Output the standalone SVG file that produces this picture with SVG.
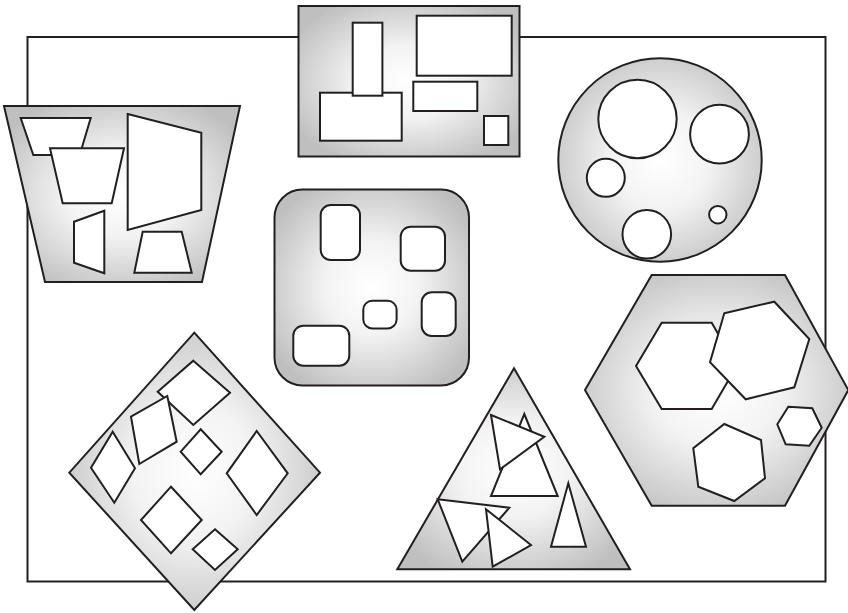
<svg xmlns="http://www.w3.org/2000/svg" width="848" height="613" viewBox="0 0 848 613">
<defs>
<radialGradient id="g" cx="0.5" cy="0.5" r="0.6">
<stop offset="0" stop-color="#ffffff"/>
<stop offset="0.4" stop-color="#f3f3f3"/>
<stop offset="1" stop-color="#bfbfbf"/>
</radialGradient>
</defs>
<style>
.o{fill:url(#g);stroke:#231f20;stroke-width:2;stroke-linejoin:miter}
.i{fill:#ffffff;stroke:#231f20;stroke-width:2;stroke-linejoin:miter}
.f{fill:none;stroke:#231f20;stroke-width:2}
</style>
<rect width="848" height="613" fill="#ffffff"/>
<g id="frame"><rect class="f" x="27.5" y="37" width="798" height="544.5"/></g>
<g id="connectors"></g>
<g id="trapezoid">
<polygon class="o" points="4,106 240,106 202,282 45,282"/>
<polygon class="i" points="20.7,118 90.7,118 79.7,155 33.3,155"/>
<polygon class="i" points="50,148.3 124,148.3 111.7,203.3 62.7,203.3"/>
<polygon class="i" points="127.7,114 201.3,132.7 201.3,210 127.7,230"/>
<polygon class="i" points="74,221.7 104.3,210.7 104.3,273.3 74,262.7"/>
<polygon class="i" points="142.7,231.7 181.7,231.7 191.7,272.7 134.3,272.7"/>
</g>
<g id="rectangle">
<rect class="o" x="298.5" y="6" width="221" height="150.5"/>
<rect class="i" x="320" y="92.7" width="81.7" height="48"/>
<rect class="i" x="352.7" y="22.7" width="29.7" height="73"/>
<rect class="i" x="416.7" y="15.7" width="95" height="60"/>
<rect class="i" x="413.3" y="81.7" width="64" height="29.3"/>
<rect class="i" x="484" y="116" width="24.3" height="29"/>
</g>
<g id="circle">
<circle class="o" cx="660" cy="160" r="101.7"/>
<circle class="i" cx="637.5" cy="119" r="39.2"/>
<circle class="i" cx="719.5" cy="134.2" r="29.4"/>
<circle class="i" cx="605.8" cy="177.8" r="19"/>
<circle class="i" cx="646.8" cy="234.3" r="24.3"/>
<circle class="i" cx="717.8" cy="214.7" r="8.7"/>
</g>
<g id="roundsquare">
<rect class="o" x="274.5" y="189.5" width="194.5" height="196" rx="28" ry="28"/>
<rect class="i" x="320.7" y="205" width="39.3" height="55" rx="10" ry="10"/>
<rect class="i" x="400.7" y="226.7" width="44.3" height="44" rx="10" ry="10"/>
<rect class="i" x="363.3" y="300.7" width="33.3" height="27.7" rx="9" ry="9"/>
<rect class="i" x="421.7" y="292.3" width="34" height="43.7" rx="10" ry="10"/>
<rect class="i" x="293.3" y="325.7" width="56" height="40" rx="10" ry="10"/>
</g>
<g id="diamond">
<polygon class="o" points="194.3,332.7 320,472.7 194.3,610 69.3,472.7"/>
<polygon class="i" points="193.3,360.7 230,392.7 193.3,425 157.7,391.7"/>
<polygon class="i" points="131,416.7 167.3,396 176.7,441.7 139.3,464"/>
<polygon class="i" points="112.7,431.7 135,468.3 114.3,502.7 91,467.7"/>
<polygon class="i" points="200.7,429.3 221.7,451.7 200.7,474.3 180.7,451.7"/>
<polygon class="i" points="256.7,431 287.7,473.3 256.7,515 226.7,473.3"/>
<polygon class="i" points="171,486.7 201.7,520 171,553.3 141,520"/>
<polygon class="i" points="215,529.3 237.7,549.3 215,570 192.7,549.3"/>
</g>
<g id="triangle">
<polygon class="o" points="514,368.3 630,569.3 397.3,569.3"/>
<polygon class="i" points="524.3,414 557.7,496 491,496"/>
<polygon class="i" points="491,415 544.3,436.7 500,469.3"/>
<polygon class="i" points="568.3,483.3 586,546.7 551,546.7"/>
<polygon class="i" points="437.7,499.3 509.3,507.7 462.3,561.7"/>
<polygon class="i" points="486,509.3 531,545 492.7,566.7"/>
</g>
<g id="hexagon">
<polygon class="o" points="651.7,275 785,275 848.3,390 785,505.7 651.7,505.7 585,390"/>
<polygon class="i" points="661.7,322.7 711.7,322.7 736.7,366 711.7,409 661.7,409 636,366"/>
<polygon class="i" points="724.3,313.3 774.3,301.7 809.3,339 794.3,387.3 745.7,399.3 710,362.3"/>
<polygon class="i" points="788.3,406.7 812.3,408.3 821.7,427.7 809.3,445.7 785.7,444.3 777.3,424.3"/>
<polygon class="i" points="724.3,424 761,440 765,478.3 734.3,501 698.3,486.7 693.3,448.3"/>
</g>
</svg>
